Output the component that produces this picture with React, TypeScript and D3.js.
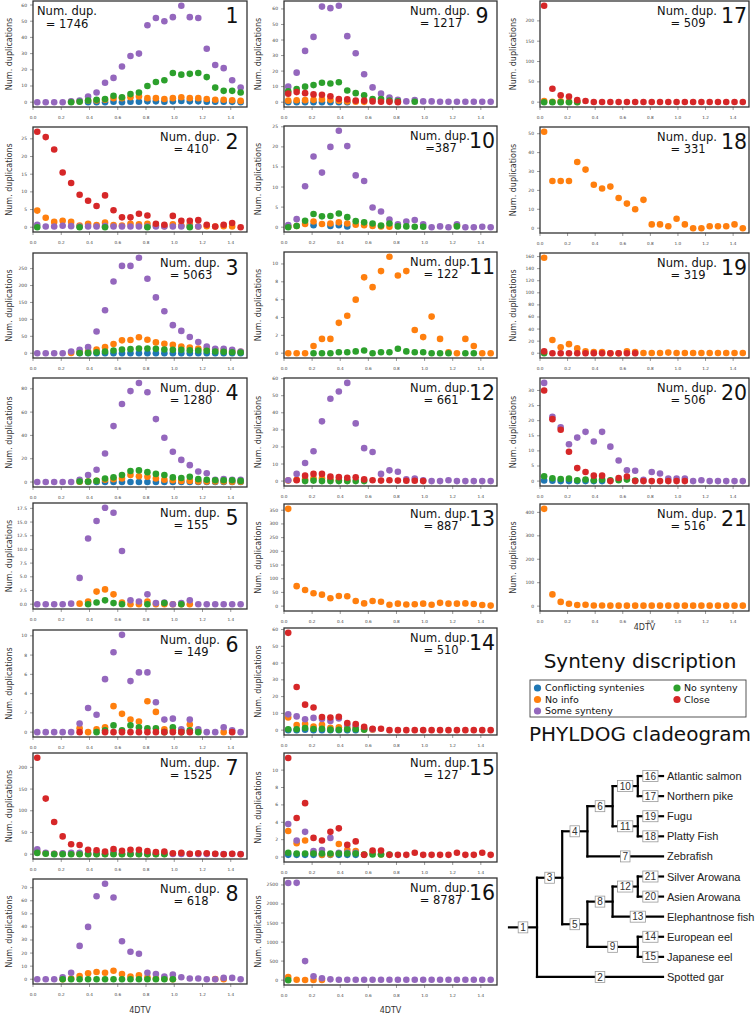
import React from 'react';
import * as d3 from 'd3';

const _ = null;
type V = number | null;

// 4DTV bin centres
const xBins = [0.03, 0.09, 0.15, 0.21, 0.27, 0.33, 0.39, 0.45, 0.51, 0.57, 0.63, 0.69, 0.75, 0.81, 0.87, 0.93, 0.99, 1.05, 1.11, 1.17, 1.23, 1.29, 1.35, 1.41, 1.47];
const xTicks = [0, 0.2, 0.4, 0.6, 0.8, 1.0, 1.2, 1.4];

const seriesNames = ['Conflicting syntenies', 'No info', 'Some synteny', 'No synteny', 'Close'];
const seriesColors = ['#1f77b4', '#ff7f0e', '#9467bd', '#2ca02c', '#d62728'];

const panelIds = ['1', '2', '3', '4', '5', '6', '7', '8', '9', '10', '11', '12', '13', '14', '15', '16', '17', '18', '19', '20', '21'];
const dupLabels = ['= 1746', '= 410', '= 5063', '= 1280', '= 155', '= 149', '= 1525', '= 618', '= 1217', '=387', '= 122', '= 661', '= 887', '= 510', '= 127', '= 8787', '= 509', '= 331', '= 319', '= 506', '= 516'];
const yTickSteps = [10, 5, 50, 20, 2.5, 2, 50, 10, 10, 5, 2, 10, 50, 10, 2, 500, 50, 10, 20, 5, 100];

// order in each panel: Conflicting, No info, Some synteny, No synteny, Close
const p1Conf: V[] = [_, _, _, _, _, _, 0, 0, 0, 0.3, 0, 0.3, 0.3, 0.5, 0.5, 0.3, 0.5, 0.8, 0.5, 0.5, 0.3, 0.3, 0.3, 0.2, 0];
const p1Info: V[] = [_, _, _, _, 0.3, 0.5, 1, 1, 1.5, 2.5, 2.5, 3, 3.5, 2.5, 2.5, 2, 2.5, 3, 2.5, 2.5, 2, 1.5, 1.5, 1.2, 0.8];
const p1Some: V[] = [0, 0, 0, 0, 0.5, 1, 3.5, 6, 12, 15, 22, 28.5, 30, 47.5, 52, 50, 52.5, 59.5, 52.5, 52, 33, 23, 21, 13.5, 9];
const p1NoSyn: V[] = [_, _, _, _, 0, 0.3, 1, 1.5, 2, 4, 3, 5, 6, 10, 12.5, 13.5, 18, 17, 17.5, 18, 15.5, 9, 7, 7, 6];
const p1Close: V[] = [];

const p2Conf: V[] = [];
const p2Info: V[] = [4.7, 2.7, 1.5, 1.8, 1.5, 0.5, 1, 0.6, 1.3, 0.6, 0.5, 1, 0.8, 1, 0.5, 0.3, 0.8, 0.5, 0.8, 0.2, 0.3, 0.2, 0.3, 0.2, _];
const p2Some: V[] = [0.7, 0.2, 0.2, 0.4, 0.3, 0.2, 0.2, 0.2, 0.3, 0.2, 0.2, 0.2, 0.2, 0.2, 0.2, 0.2, 0.2, 0.2, 0.2, 0.2, _, _, _, _, _];
const p2NoSyn: V[] = [0, _, _, _, _, 0, _, _, 0, _, _, _, _, 0, _, _, _, _, 0, _, _, _, _, _, _];
const p2Close: V[] = [27, 25.5, 22, 15.5, 12.5, 9.2, 7.5, 6, 9, 4.8, 2.8, 2.8, 3.8, 3.3, 1, 0.7, 3.2, 1.8, 1.8, 2, 0.7, 0.2, 0.7, 1.2, 0];

const p3Conf: V[] = [_, _, _, _, _, 0, 0, 0, 0, 0, 0, 0, 0, 0, 0, 0, 0, 0, 0, 0, 0, 0, 0, 0, 0];
const p3Info: V[] = [_, _, _, _, 1, 3, 5, 11, 18, 27, 38, 39, 47, 40, 32, 28, 25, 20, 17, 14, 12, 10, 8, 6, 4];
const p3Some: V[] = [0, 0, 0, 0, 5, 10, 18, 64, 127, 212, 258, 258, 282, 220, 165, 124, 83, 66, 48, 33, 20, 13, 13, 10, 5];
const p3NoSyn: V[] = [_, _, _, _, _, 0.5, 1, 3, 5, 8, 11, 12, 14, 14, 13, 11, 10, 10, 9, 8, 7, 5, 4, 3, 2];
const p3Close: V[] = [];

const p4Conf: V[] = [_, _, _, _, _, _, 0, 0, 0, 0, 0, 0, 0, 0, 0, 0, 0, 0, 0, 0, 0, 0, 0, 0, 0];
const p4Info: V[] = [_, _, _, _, _, 0.3, 0.5, 1, 2, 2.5, 3, 6, 5, 4.5, 3, 2, 1.5, 1, 1, 0.5, 0.5, 0.5, 0.5, 0.3, 0.3];
const p4Some: V[] = [0, 0, 0, 0, 0, 2, 6, 10.5, 24.5, 48, 67, 78, 85, 77, 54, 38, 26, 19, 14.5, 9, 7.5, 2, 2.5, 2, 2];
const p4NoSyn: V[] = [_, _, _, _, _, 0.5, 0.5, 1, 3, 4, 6, 9.5, 10, 8.5, 7, 6, 4, 3.5, 4.5, 2.5, 2, 1.5, 1.5, 1.5, 1];
const p4Close: V[] = [];

const p5Conf: V[] = [];
const p5Info: V[] = [_, _, _, _, _, 0.1, 0.5, 2.3, 2.7, 1.8, 0.3, 0, 0, 0.5, 0, 0, 0, 0, 0, _, _, _, _, _, _];
const p5Some: V[] = [0, 0, 0, 0, 0.1, 4.8, 12, 15.2, 17.6, 16.7, 9.7, 0.7, 0.5, 1.8, 0.2, 0.3, 0, 0.2, 0.7, 0, 0, 0, 0, 0, 0];
const p5NoSyn: V[] = [_, _, _, _, _, _, 0, 0.3, 0.7, 0.2, 0, _, _, 0, _, 0.2, _, 0, _, _, _, _, _, _, _];
const p5Close: V[] = [];

const p6Conf: V[] = [];
const p6Info: V[] = [_, _, _, _, _, 0.4, 0, 0.3, 0.5, 2.7, 1.9, 1.3, 1.1, 3.2, 2.1, 0.3, 0.2, 0.2, 0.8, 0.1, _, _, 0, _, _];
const p6Some: V[] = [0, 0, 0, 0, 0, 0.9, 2.5, 1.8, 5.5, 8.3, 10.1, 5.3, 6.2, 6.2, 3.1, 1.3, 1.4, 0.3, 1.3, 0.3, 0, 0, 0.5, 0.2, 0];
const p6NoSyn: V[] = [_, _, _, _, _, _, _, 0, 0.2, 0.7, 0.2, 0.7, 0.5, 0.4, 0.4, 0, 0.5, 0, 0.2, 0, _, _, _, _, _];
const p6Close: V[] = [_, _, _, _, _, 0, _, _, 0, 0, 0, 0, 0, 0, 0, 0, 0, 0, 0, _, _, _, _, 0, _];

const p7Conf: V[] = [];
const p7Info: V[] = [5, 2, 1, 1, 1, 1, 0.5, 0.5, 0.5, 1, 0.5, 0.5, 0.5, 0.5, 0.5, 0.5];
const p7Some: V[] = [11, 3, 1, 2, 3, 3, 1, 2, 1, 6, 1, 1, 1, 1, 1, 1, 0.5, 0.5, 0.5, 0.5, 0.5, 0.5, 0.5, 0.5, 0.5];
const p7NoSyn: V[] = [3, 1, 0, 0, 0, 0, 0, 0, 0, 0, 0, 0, 0, 0, 0, 0];
const p7Close: V[] = [222, 128, 74, 41, 23, 21, 10, 9, 6, 12, 8, 10, 10, 7, 5, 6, 2, 3, 1, 2, 2, 1, 0, 1, 0];

const p8Conf: V[] = [];
const p8Info: V[] = [_, _, _, 0, 0.5, 2.5, 4.5, 5.5, 5, 6.5, 4, 2, 3, 1.5, 0.5, 0.5, 0, _, _, _, _, 0.2, 0, _, _];
const p8Some: V[] = [0, 0, 0, 1.5, 5, 25.5, 40, 63.5, 73, 62.5, 29, 21, 19.5, 5, 4, 2, 3.5, 1.5, 0.5, 0.5, 0, 0, 1, 1, 0];
const p8NoSyn: V[] = [_, _, _, 0, 0, 0, 0, 0, 0, 0, 0, 0, 0, 0, 0, 0, 0];
const p8Close: V[] = [];

const p9Conf: V[] = [0, 0, 0, 0, 0, 0, 0, 0];
const p9Info: V[] = [1, 1.2, 1.3, 1.5, 1.8, 1.5, 1, 0.5, 0.3, 0.2];
const p9Some: V[] = [10, 19, 33, 42, 61.5, 60.5, 62, 42.5, 31.5, 18, 9.5, 5.5, 3, 1.5, 0.5, 1.3, 0.5, 0.5, 0.3, 0.3, 0.3, 0.3, 0.3, 0.3, 0.3];
const p9NoSyn: V[] = [7, 8.5, 10, 11, 12.5, 12, 12.8, 7.5, 5.8, 4.5, 2, 2, 1, 0.5, _, 0.3];
const p9Close: V[] = [5.5, 6.5, 5.8, 5, 4.8, 3.8, 2, 1.8, 1, 1, 0.5, 0.3, 0.2, 0];

const p10Conf: V[] = [_, _, _, 0.5, _, 0.3, 0.5, 0.2];
const p10Info: V[] = [0.2, 0.3, 0.8, 1.4, 0.8, 0.9, 1.2, 0.9, 0.6, 0.5, 0.3, 0.2, 0.1, _, _, _, _, _, _, _, 0.4];
const p10Some: V[] = [0.5, 2, 10.2, 17.6, 13.6, 20, 24, 20.2, 12.9, 11.5, 4.9, 3.9, 1.9, 0.7, 1.4, 1.8, 0.7, 0, 0.2, 0, 0.7, 0, 0, 0.1, 0];
const p10NoSyn: V[] = [0, 0.3, 1.6, 3.3, 2.7, 2.8, 3.4, 2.5, 1.5, 1.2, 0.9, 0.4, 0.9, 0.2, 0.2, 0.1, 0.1, _, _, _, 0.2];
const p10Close: V[] = [];

const p11Conf: V[] = [];
const p11Info: V[] = [0, 0, 0, 0.8, 1.6, 1.6, 3.4, 4.2, 6, 8.5, 7.4, 9.2, 10.8, 8.7, 9.2, 2.6, 1.8, 4.1, 1.6, 0.1, 0, 1.6, 0.8, 0, 0];
const p11Some: V[] = [];
const p11NoSyn: V[] = [_, _, _, 0, 0, 0, 0.1, 0.1, 0.2, 0.3, 0, 0.1, 0.1, 0.5, 0.2, 0.1, 0.1, 0, 0, 0, _, 0, 0];
const p11Close: V[] = [];

const p12Conf: V[] = [];
const p12Info: V[] = [0.3, 0.8, 1, 1.6, 1.6, 1, 0.5, 0.3];
const p12Some: V[] = [0.5, 4.2, 10.6, 17.5, 35, 48.2, 52.5, 57.5, 33.8, 19.3, 17, 4.2, 6.3, 5.5, 1, 1.5, 0.5, 0, 0, 0.5, 0, 0, 0, 0, 0];
const p12NoSyn: V[] = [_, _, 0, 0.3, 0, 0, 0, 0, 0, 0];
const p12Close: V[] = [_, 0.5, 3.2, 4.2, 4.2, 2.6, 2.3, 2, 2.2, 1, 0.5, 0.3, 0.5, 0.3, 0.2, 0.2, 0];

const p13Conf: V[] = [];
const p13Info: V[] = [355, 73, 59, 47, 42, 29, 37, 36, 19, 10, 19, 16, 5, 9, 6, 7, 9, 5, 12, 9, 9, 10, 8, 4, 2];
const p13Some: V[] = [];
const p13NoSyn: V[] = [];
const p13Close: V[] = [];

const p14Conf: V[] = [0, 0, 0.3, 0, 0, 0, 0, 0, 0];
const p14Info: V[] = [7.5, 3, 3.6, 2.2, 3.2, 1.4, 1.7, 1.3, 1.7, 0.5, 0.3];
const p14Some: V[] = [9.4, 8.2, 6.5, 7.3, 6.7, 5.5, 7, 3, 2.5, 1, 0.5];
const p14NoSyn: V[] = [0.5, 0.5, 1.2, 0.7, 0.8, 0.3, 0.2, 0.5, 0.5, 0.2];
const p14Close: V[] = [58, 25.7, 15.2, 13.5, 7.8, 7.5, 8, 4.2, 3.6, 2, 0.8, 0.8, 0, 0, 0, 0, 0, 0, 0, 0, 0, 0, 0, 0, 0];

const p15Conf: V[] = [0.25, 0.25, 0.25, 0.25, 0.25, 0.25, 0.25, 0.25, 0.25];
const p15Info: V[] = [3, 1.6, 1.9, 0.5, 0.25, 0.3, 1.5, 0.8, 0.7, 0.3, 0.5, 0.3];
const p15Some: V[] = [3.8, 1.9, 2.9, 0.7, 0.8, 2.2, 0.5, 0.5, 0.5];
const p15NoSyn: V[] = [0.5, 0.4, 0.4, 0.4, 0.4, 0.4, 0.4, 0.4, 0.4, 0.3, 0.3, 0.3, 0.3];
const p15Close: V[] = [11.4, 4.5, 6.2, 2.2, 1.9, 2.9, 3.3, 1.4, 1.8, 0.25, 0.75, 0.75, 0.25, 0.25, 0.25, 0.5, 0.25, 0.25, 0.25, 0.25, 0.5, 0.25, 0.25, 0.5, 0.25];

const p16Conf: V[] = [];
const p16Info: V[] = [80, 10, 5, 5, 5];
const p16Some: V[] = [2550, 2555, 500, 100, 50, 20, 10, 10, 10, 10, 10, 10, 10, 10, 10, 10, 10, 10, 10, 10, 10, 10, 10, 10, 10];
const p16NoSyn: V[] = [0];
const p16Close: V[] = [];

const p17Conf: V[] = [];
const p17Info: V[] = [3, 1, 2, 1, 0.5];
const p17Some: V[] = [];
const p17NoSyn: V[] = [0, 0, 0, 0, 0];
const p17Close: V[] = [237, 33, 17, 14, 5, 3, 0.5, 0.5, 0.5, 0.5, 0.5, 0.5, 0.5, 0.5, 0.5, 0.5, 0.5, 0.5, 0.5, 0.5, 0.5, 0.5, 0.5, 0.5, 0.5];

const p18Conf: V[] = [];
const p18Info: V[] = [51, 25, 25, 25, 35, 31, 23, 21, 22, 16, 13, 10, 15, 2, 2, 1, 5, 2, 0, 0, 1, 1, 1, 2, 0];
const p18Some: V[] = [];
const p18NoSyn: V[] = [];
const p18Close: V[] = [];

const p19Conf: V[] = [];
const p19Info: V[] = [158, 22, 10, 15, 8, 3, 2, 2, 0, 0, 3, 2, 0.5, 0.5, 0.5, 1, 0.5, 0.5, 0.5, 0.5, 0.5, 0.5, 0.5, 0.5, 0.5];
const p19Some: V[] = [];
const p19NoSyn: V[] = [0];
const p19Close: V[] = [3, 0, 0, 0, 0, 0, 0, 0, 0, 0, 0, 0];

const p20Conf: V[] = [0.2, 0.1, 0, 0, 0, 0, 0, 0];
const p20Info: V[] = [];
const p20Some: V[] = [32.5, 21.3, 17.8, 12.2, 14.4, 16.3, 13.1, 16.3, 11.4, 6.8, 3.6, 3.4, 0.4, 3, 2.5, 0.8, 0.8, 0.8, 0, 0.3, 0, 0, 0, 0, 0];
const p20NoSyn: V[] = [1.6, 0.9, 0.7, 0.8, 0.3, 0.5, 0.3, 0.5, 0.3, 0.3, 0.5, 0.2];
const p20Close: V[] = [30, 20.5, 17, 9.7, 4.3, 3, 1.8, 1.8, 0, 1, 1.5, 0, 0, 0, 0, 0, 0, 0];

const p21Conf: V[] = [];
const p21Info: V[] = [415, 50, 18, 10, 5, 6, 3, 3, 2, 2, 2, 2, 2, 2, 2, 2, 2, 2, 2, 2, 2, 2, 2, 2, 2];
const p21Some: V[] = [];
const p21NoSyn: V[] = [];
const p21Close: V[] = [];

const panelSeries: V[][][] = [
  [p1Conf, p1Info, p1Some, p1NoSyn, p1Close],
  [p2Conf, p2Info, p2Some, p2NoSyn, p2Close],
  [p3Conf, p3Info, p3Some, p3NoSyn, p3Close],
  [p4Conf, p4Info, p4Some, p4NoSyn, p4Close],
  [p5Conf, p5Info, p5Some, p5NoSyn, p5Close],
  [p6Conf, p6Info, p6Some, p6NoSyn, p6Close],
  [p7Conf, p7Info, p7Some, p7NoSyn, p7Close],
  [p8Conf, p8Info, p8Some, p8NoSyn, p8Close],
  [p9Conf, p9Info, p9Some, p9NoSyn, p9Close],
  [p10Conf, p10Info, p10Some, p10NoSyn, p10Close],
  [p11Conf, p11Info, p11Some, p11NoSyn, p11Close],
  [p12Conf, p12Info, p12Some, p12NoSyn, p12Close],
  [p13Conf, p13Info, p13Some, p13NoSyn, p13Close],
  [p14Conf, p14Info, p14Some, p14NoSyn, p14Close],
  [p15Conf, p15Info, p15Some, p15NoSyn, p15Close],
  [p16Conf, p16Info, p16Some, p16NoSyn, p16Close],
  [p17Conf, p17Info, p17Some, p17NoSyn, p17Close],
  [p18Conf, p18Info, p18Some, p18NoSyn, p18Close],
  [p19Conf, p19Info, p19Some, p19NoSyn, p19Close],
  [p20Conf, p20Info, p20Some, p20NoSyn, p20Close],
  [p21Conf, p21Info, p21Some, p21NoSyn, p21Close],
];

// legend layout: [series index, column, row]
const legendItems = [[0, 0, 0], [1, 0, 1], [2, 0, 2], [3, 1, 0], [4, 1, 1]];

const tree = {
  name: '1', children: [
    { name: '3', children: [
      { name: '4', children: [
        { name: '6', children: [
          { name: '10', children: [{ name: '16', label: 'Atlantic salmon' }, { name: '17', label: 'Northern pike' }] },
          { name: '11', children: [{ name: '19', label: 'Fugu' }, { name: '18', label: 'Platty Fish' }] },
        ] },
        { name: '7', label: 'Zebrafish' },
      ] },
      { name: '5', children: [
        { name: '8', children: [
          { name: '12', children: [{ name: '21', label: 'Silver Arowana' }, { name: '20', label: 'Asien Arowana' }] },
          { name: '13', label: 'Elephantnose fish' },
        ] },
        { name: '9', children: [{ name: '14', label: 'European eel' }, { name: '15', label: 'Japanese eel' }] },
      ] },
    ] },
    { name: '2', label: 'Spotted gar' },
  ],
};

// ---------- layout ----------
const W = 756, H = 1015;
const FONT = 'DejaVu Sans, sans-serif';
const colX = [[33, 247], [284, 497], [540, 749]];
const ylabX = [12, 261, 516];
const panelCol = [0, 0, 0, 0, 0, 0, 0, 0, 1, 1, 1, 1, 1, 1, 1, 1, 2, 2, 2, 2, 2];
const panelY = [
  [1, 107], [127, 232], [253, 358], [378, 487], [503, 609], [630, 737], [753, 859], [879, 984],
  [1, 107], [126, 232], [252, 358], [378, 486], [504, 611], [628, 735], [753, 862], [878, 985],
  [1, 107], [127, 233], [253, 358], [378, 486], [504, 611],
];

function Panel({ i }: { i: number }) {
  const col = panelCol[i];
  const [x0, x1] = colX[col];
  const [y0, y1] = panelY[i];
  const series = panelSeries[i];
  const vals: number[] = [];
  series.forEach(s => s.forEach(v => { if (v != null) vals.push(v); }));
  const lo = Math.min(0, d3.min(vals) as number);
  const hi = d3.max(vals) as number;
  const pad = (hi - lo) * 0.05;
  const x = d3.scaleLinear().domain([0, 1.515]).range([x0, x1]);
  const y = d3.scaleLinear().domain([lo - pad, hi + pad]).range([y1, y0]);
  const step = yTickSteps[i];
  const yt = d3.range(0, hi + pad + 1e-9, step);
  const fmt = step % 1 !== 0 ? d3.format('.1f') : d3.format('d');
  const id = panelIds[i];
  const twoDigit = id.length > 1;
  const endOff = col === 2 ? 32 : 27;
  const cy = (y0 + y1) / 2;
  return (
    <g>
      {yt.map(t => (
        <g key={'y' + t}>
          <line x1={x0} x2={x0 - 3} y1={y(t)} y2={y(t)} stroke="#555" strokeWidth={0.6} />
          <text x={x0 - 6} y={y(t) + 1.5} fontSize={4.5} textAnchor="end" fill="#444" fontFamily={FONT}>{fmt(t)}</text>
        </g>
      ))}
      {xTicks.map(t => (
        <g key={'x' + t}>
          <line x1={x(t)} x2={x(t)} y1={y1} y2={y1 + 3} stroke="#555" strokeWidth={0.6} />
          <text x={x(t)} y={y1 + 12} fontSize={4.2} textAnchor="middle" fill="#444" fontFamily={FONT}>{d3.format('.1f')(t)}</text>
        </g>
      ))}
      <text transform={`translate(${ylabX[col]},${cy}) rotate(-90)`} fontSize={8} textAnchor="middle" fill="#333" fontFamily={FONT}>Num. duplications</text>
      {series.map((s, si) => (
        <g key={'s' + si}>
          {s.map((v, k) => v == null ? null : (
            <circle key={k} cx={x(xBins[k])} cy={y(v)} r={3.3} fill={seriesColors[si]} />
          ))}
        </g>
      ))}
      <rect x={x0} y={y0} width={x1 - x0} height={y1 - y0} fill="none" stroke="#333" strokeWidth={1.3} />
      {i === 0 ? (
        <g fontFamily={FONT} fill="#111" textAnchor="middle">
          <text x={x0 + 34} y={y0 + 14} fontSize={11.5}>Num. dup.</text>
          <text x={x0 + 34} y={y0 + 27} fontSize={11.5}>{dupLabels[i]}</text>
        </g>
      ) : (
        <g fontFamily={FONT} fill="#111">
          <text x={x1 - endOff} y={y0 + 14} fontSize={11.5} textAnchor="end">Num. dup.</text>
          <text x={x1 - endOff - 29} y={y0 + 26} fontSize={11.5} textAnchor="middle">{dupLabels[i]}</text>
        </g>
      )}
      <text x={twoDigit ? x1 - 2 : x1 - 15} y={y0 + 22} fontSize={20.5} textAnchor={twoDigit ? 'end' : 'middle'} fill="#111" fontFamily={FONT}>{id}</text>
    </g>
  );
}

function Cladogram() {
  const root = d3.hierarchy<any>(tree);
  const top = 766, bottom = 987, left = 537, right = 663;
  d3.cluster<any>().size([bottom - top, right - left]).separation(() => 1)(root);
  const X = (n: any) => left + n.y;
  const Y = (n: any) => top + n.x;
  const lines: JSX.Element[] = [];
  const boxes: JSX.Element[] = [];
  root.each((n: any) => {
    const startX = n.parent ? X(n.parent) : left - 28;
    const endX = X(n);
    lines.push(<line key={'h' + n.data.name} x1={startX} x2={endX} y1={Y(n)} y2={Y(n)} stroke="#000" strokeWidth={2.2} strokeLinecap="square" />);
    if (n.children) {
      const c0 = n.children[0], c1 = n.children[n.children.length - 1];
      lines.push(<line key={'v' + n.data.name} x1={endX} x2={endX} y1={Y(c0)} y2={Y(c1)} stroke="#000" strokeWidth={2.2} strokeLinecap="square" />);
    }
    const bx = (startX + endX) / 2;
    const bw = n.data.name.length * 5.6 + 4;
    boxes.push(
      <g key={'b' + n.data.name}>
        <rect x={bx - bw / 2} y={Y(n) - 5.5} width={bw} height={11} fill="#fff" stroke="#9a9a9a" strokeWidth={0.8} />
        <text x={bx} y={Y(n) + 3.6} fontSize={10} textAnchor="middle" fill="#333" fontFamily="Liberation Sans, Arial, sans-serif">{n.data.name}</text>
      </g>
    );
    if (!n.children) {
      boxes.push(<text key={'l' + n.data.name} x={right + 4} y={Y(n) + 4} fontSize={11} fill="#222" fontFamily="Liberation Sans, Arial, sans-serif">{n.data.label}</text>);
    }
  });
  return <g>{lines}{boxes}</g>;
}

export default function App() {
  const legX = [537.5, 677], legTextX = [545, 684];
  const legRows = [688, 699.5, 711];
  return (
    <div style={{ position: 'absolute', left: 0, top: 0 }}>
      <svg width={W} height={H} viewBox={`0 0 ${W} ${H}`} style={{ display: 'block', background: '#fff' }}>
        <rect width={W} height={H} fill="#fff" />
        {panelIds.map((_, i) => <Panel key={i} i={i} />)}
        <text x={140} y={1013} fontSize={8} textAnchor="middle" fill="#333" fontFamily={FONT}>4DTV</text>
        <text x={390.5} y={1013} fontSize={8} textAnchor="middle" fill="#333" fontFamily={FONT}>4DTV</text>
        <text x={644.5} y={630} fontSize={8} textAnchor="middle" fill="#333" fontFamily={FONT}>4DTV</text>
        <text x={640} y={668} fontSize={20} textAnchor="middle" fill="#111" fontFamily={FONT}>Synteny discription</text>
        <rect x={530} y={680} width={216} height={37} fill="#fff" stroke="#444" strokeWidth={0.9} />
        {legendItems.map(([si, c, r]) => (
          <g key={si}>
            <circle cx={legX[c]} cy={legRows[r]} r={3.6} fill={seriesColors[si]} />
            <text x={legTextX[c]} y={legRows[r] + 3.3} fontSize={9.5} fill="#111" fontFamily={FONT}>{seriesNames[si]}</text>
          </g>
        ))}
        <text x={640} y={741} fontSize={20} textAnchor="middle" fill="#111" fontFamily={FONT}>PHYLDOG cladeogram</text>
        <Cladogram />
      </svg>
    </div>
  );
}
